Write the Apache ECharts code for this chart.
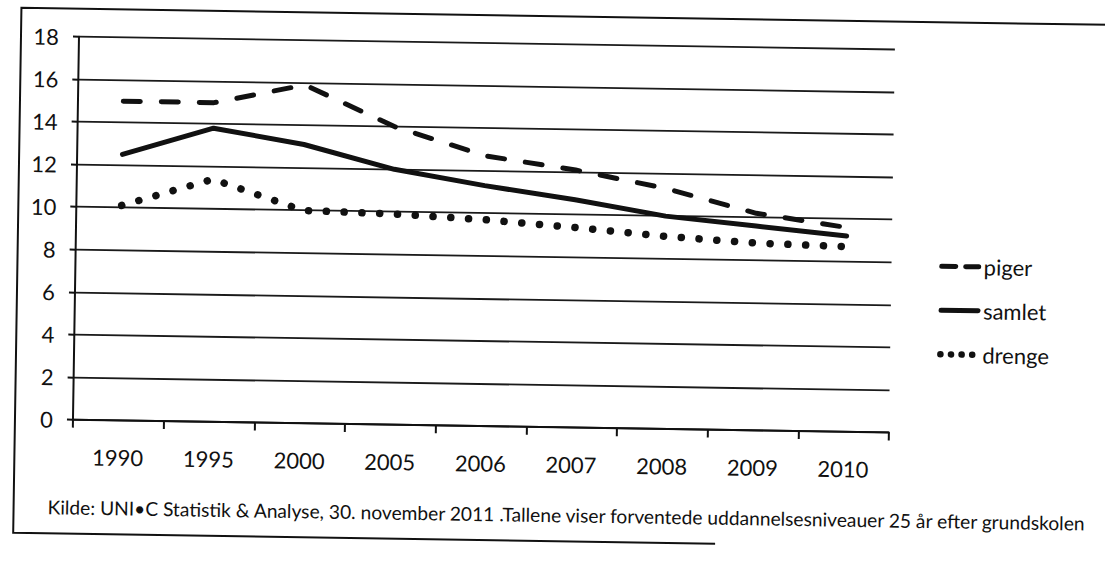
<!DOCTYPE html>
<html>
<head>
<meta charset="utf-8">
<script src="https://cdn.jsdelivr.net/npm/echarts@6/dist/echarts.min.js"></script>
<style>
  html, body { margin: 0; padding: 0; background: #fff; overflow: hidden; }
  #wrap { position: absolute; left: 0; top: 0; width: 1105px; height: 563px;
          transform: rotate(0.9deg); transform-origin: 480px 230px; }
  #chart { width: 1105px; height: 563px; }
</style>
</head>
<body>
<div id="wrap"><div id="chart"></div></div>
<script>
// ---- data ----
const categories = ['1990', '1995', '2000', '2005', '2006', '2007', '2008', '2009', '2010'];
const piger  = [15.0, 15.0, 15.9, 14.0, 12.7, 12.1, 11.3, 10.2, 9.6];
const samlet = [12.5, 13.8, 13.1, 12.0, 11.3, 10.7, 10.0, 9.6, 9.2];
const drenge = [10.1, 11.4, 10.0, 9.9, 9.7, 9.4, 9.05, 8.8, 8.7];
const yTicks = { min: 0, max: 18, interval: 2 };
const seriesNames = ['piger', 'samlet', 'drenge'];
const footnote = 'Kilde: UNI\u2022C Statistik & Analyse, 30. november 2011 .Tallene viser forventede uddannelsesniveauer 25 år efter grundskolen';

const FONT = 'Lato, "Open Sans", sans-serif';
const INK = '#111';

const styles = {
  piger:  { color: INK, width: 5, type: [17, 21], cap: 'round' },
  samlet: { color: INK, width: 5, type: 'solid', cap: 'round' },
  drenge: { color: INK, width: 7.5, type: [0.1, 17.7], cap: 'round' }
};
const legendStyles = {
  piger:  { color: INK, width: 5, type: [14, 10], cap: 'round' },
  samlet: { color: INK, width: 5, type: 'solid', cap: 'round' },
  drenge: { color: INK, width: 6.5, type: [0.1, 10.5], cap: 'round' }
};
const values = { piger, samlet, drenge };

const chart = echarts.init(document.getElementById('chart'), null, { renderer: 'svg' });
chart.setOption({
  animation: false,
  backgroundColor: '#fff',
  grid: { left: 76, right: 213, top: 43, bottom: 137 },
  xAxis: {
    type: 'category',
    data: categories,
    boundaryGap: true,
    axisLine: { show: true, lineStyle: { color: INK, width: 2 } },
    axisTick: { show: true, interval: 0, length: 8, lineStyle: { color: INK, width: 2 } },
    axisLabel: { margin: 26, fontFamily: FONT, fontSize: 22, color: INK, interval: 0 },
    splitLine: { show: false }
  },
  yAxis: {
    type: 'value',
    min: yTicks.min, max: yTicks.max, interval: yTicks.interval,
    axisLine: { show: true, lineStyle: { color: INK, width: 2 } },
    axisTick: { show: true, length: 6, lineStyle: { color: INK, width: 2 } },
    axisLabel: { margin: 20, fontFamily: FONT, fontSize: 22, color: INK },
    splitLine: { show: true, lineStyle: { color: '#1a1a1a', width: 1.8 } }
  },
  legend: {
    orient: 'vertical',
    left: 934, top: 243,
    itemWidth: 37, itemHeight: 14, itemGap: 22,
    textStyle: { fontFamily: FONT, fontSize: 22, color: INK },
    data: seriesNames.map(n => ({
      name: n,
      lineStyle: legendStyles[n],
      itemStyle: { opacity: 0, color: 'transparent', borderColor: 'transparent', borderWidth: 0 }
    }))
  },
  graphic: [
    { type: 'polyline', silent: true,
      shape: { points: [[1200, 15], [18, 15], [18, 540], [720, 540]] },
      style: { stroke: INK, lineWidth: 2, fill: null } },
    { type: 'text', left: 52, top: 504, silent: true,
      style: { text: footnote, font: '19.2px ' + FONT, fill: INK } }
  ],
  series: seriesNames.map(n => ({
    name: n,
    type: 'line',
    data: values[n],
    symbol: 'none',
    showSymbol: false,
    smooth: false,
    lineStyle: styles[n],
    itemStyle: { color: INK }
  }))
});
</script>
</body>
</html>
